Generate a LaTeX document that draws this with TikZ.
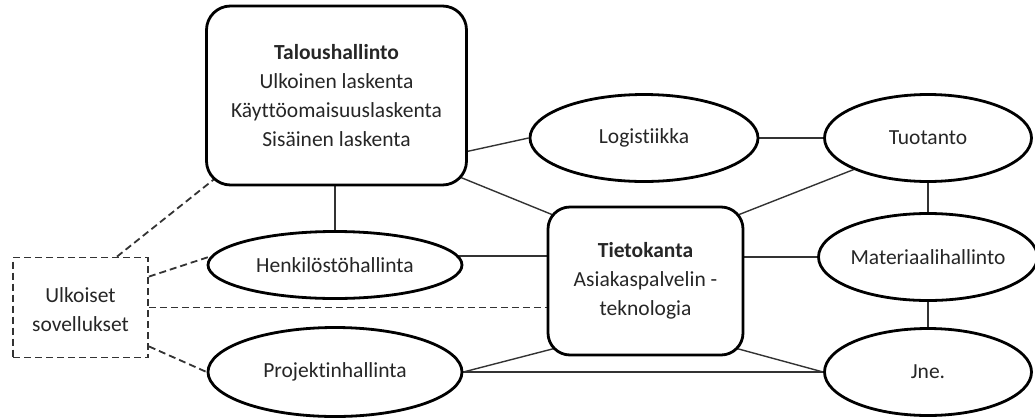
\documentclass[tikz,border=0pt]{standalone}
\usepackage{fontspec}
\setmainfont{Carlito}[Ligatures={NoCommon}]
\usetikzlibrary{shapes.geometric,calc}
\pgfdeclarelayer{background}
\pgfsetlayers{background,main}
\definecolor{txt}{HTML}{262626}
\definecolor{linkc}{HTML}{333333}
\begin{document}
\begin{tikzpicture}[x=1pt,y=-1pt,
  lbl/.style={font=\fontsize{21.5}{29}\selectfont, text=txt, align=center},
  ell/.style={ellipse, draw=black, line width=2.8pt, fill=white, inner sep=0pt, lbl},
  rbox/.style={rectangle, rounded corners=24pt, draw=black, line width=2.8pt, fill=white, inner sep=0pt, lbl},
  link/.style={draw=linkc, line width=1.4pt},
  dlink/.style={link, line width=1.8pt, dash pattern=on 7pt off 4pt},
  dbox/.style={rectangle, dlink, fill=white, inner sep=0pt, lbl}]
\useasboundingbox (0,0) rectangle (1035,418);
\node[rbox, minimum width=260pt, minimum height=179pt] (tal) at (336.5,95.5)
  {\textbf{Taloushallinto}\\Ulkoinen laskenta\\Käyttöomaisuuslaskenta\\Sisäinen laskenta};
\node[ell, minimum width=228pt, minimum height=87pt] (log) at (644,138) {Logistiikka};
\node[ell, minimum width=207pt, minimum height=87pt] (tuo) at (928,138) {Tuotanto};
\node[ell, minimum width=254pt, minimum height=67pt] (hen) at (335,265) {Henkilöstöhallinta};
\node[ell, minimum width=254pt, minimum height=89pt] (pro) at (335,372) {Projektinhallinta};
\node[dbox, minimum width=135pt, minimum height=100pt] (ulk) at (80.5,307.5) {\rule{0pt}{20pt}Ulkoiset\\sovellukset};
\node[rbox, rounded corners=22pt, minimum width=195pt, minimum height=148pt] (tk) at (645.5,281)
  {\textbf{Tietokanta}\\Asiakaspalvelin -\\teknologia};
\node[ell, minimum width=207pt, minimum height=87pt] (mat) at (928,257) {Materiaalihallinto};
\node[ell, minimum width=207pt, minimum height=87pt] (jne) at (928,372) {Jne.};
\begin{pgfonlayer}{background}
\draw[link] (tal.-23.5) -- (log.west);
\draw[link] ([shift={(-8,-9.3)}]tal.south east) -- ([shift={(8,10)}]tk.north west);
\draw[link] (hen.north |- tal.south) -- (hen.north);
\draw[link] (log.east) -- (tuo.west);
\draw[link] ([shift={(-7,9.6)}]tk.north east) -- (tuo.203);
\draw[link] ([yshift=9pt]hen.center) -- ([yshift=9pt]hen.center -| tk.center);
\draw[link] (mat.center) -- (mat.center -| tk.center);
\draw[link] (tuo) -- (mat);
\draw[link] (mat) -- (jne);
\draw[link] (pro.east) -- ([shift={(8,-8)}]tk.south west);
\draw[link] (pro.east) -- (jne.west);
\draw[link] ([shift={(-8,-8)}]tk.south east) -- (jne.west);
\draw[dlink] ([xshift=36.5pt]ulk.north) -- ([shift={(10,-8)}]tal.south west);
\draw[dlink] ([yshift=-20pt]ulk.north east) -- (hen.176);
\draw[dlink] (ulk.east) -- (ulk.east -| tk.center);
\draw[dlink] ([yshift=12pt]ulk.south east) -- (pro.west);
\end{pgfonlayer}
\end{tikzpicture}
\end{document}
